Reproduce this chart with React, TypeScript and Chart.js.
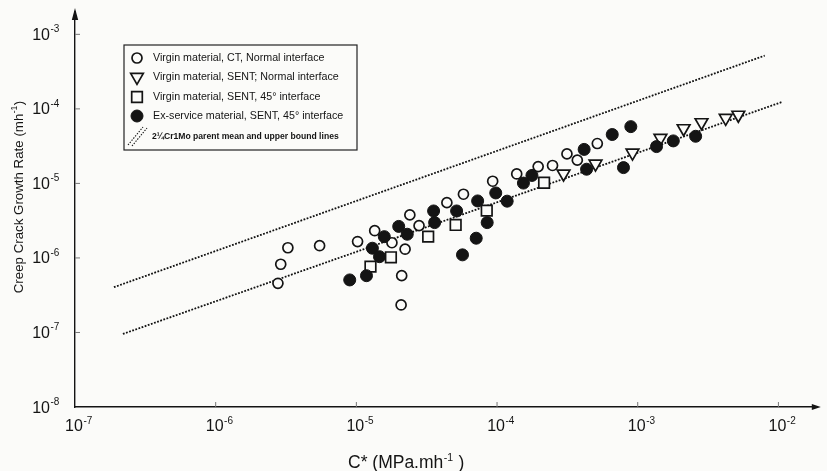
import React, { useEffect, useRef } from 'react';
import { Chart, registerables } from 'chart.js';

Chart.register(...registerables);

// ---------- data (C* in MPa.m/h, creep crack growth rate in m/h) ----------
const ctLabel = 'Virgin material, CT, Normal interface';
const ctC = [2.77e-6, 2.90e-6, 3.26e-6, 5.48e-6, 1.02e-5, 1.35e-5, 1.79e-5, 2.22e-5, 2.10e-5, 2.08e-5, 2.40e-5,
  2.79e-5, 4.40e-5, 5.77e-5, 9.31e-5, 1.38e-4, 1.96e-4, 2.48e-4, 3.14e-4, 3.72e-4, 5.16e-4];
const ctRate = [4.57e-7, 8.23e-7, 1.37e-6, 1.46e-6, 1.66e-6, 2.32e-6, 1.60e-6, 1.31e-6, 5.78e-7, 2.34e-7, 3.78e-6,
  2.71e-6, 5.52e-6, 7.16e-6, 1.07e-5, 1.34e-5, 1.68e-5, 1.74e-5, 2.49e-5, 2.05e-5, 3.43e-5];

const sentNormalLabel = 'Virgin material, SENT; Normal interface';
const sentNormalC = [2.97e-4, 5.01e-4, 9.18e-4, 1.45e-3, 2.12e-3, 2.84e-3, 4.22e-3, 5.19e-3];
const sentNormalRate = [1.35e-5, 1.83e-5, 2.57e-5, 4.06e-5, 5.47e-5, 6.59e-5, 7.53e-5, 8.30e-5];

const sent45Label = 'Virgin material, SENT, 45° interface';
const sent45C = [1.26e-5, 1.76e-5, 3.24e-5, 5.08e-5, 8.45e-5, 2.16e-4];
const sent45Rate = [7.64e-7, 1.02e-6, 1.93e-6, 2.77e-6, 4.31e-6, 1.02e-5];

const exServiceLabel = 'Ex-service material, SENT, 45° interface';
const exServiceC = [8.97e-6, 1.18e-5, 1.30e-5, 1.46e-5, 1.58e-5, 2.00e-5, 2.30e-5, 3.54e-5, 3.60e-5, 5.16e-5,
  5.68e-5, 7.11e-5, 7.28e-5, 8.51e-5, 9.79e-5, 1.18e-4, 1.54e-4, 1.77e-4, 4.16e-4, 4.33e-4, 6.59e-4, 8.93e-4,
  7.92e-4, 1.36e-3, 1.79e-3, 2.58e-3];
const exServiceRate = [5.07e-7, 5.78e-7, 1.35e-6, 1.04e-6, 1.93e-6, 2.65e-6, 2.08e-6, 4.27e-6, 2.98e-6, 4.27e-6,
  1.10e-6, 1.84e-6, 5.82e-6, 2.98e-6, 7.45e-6, 5.78e-6, 1.01e-5, 1.28e-5, 2.86e-5, 1.55e-5, 4.53e-5, 5.78e-5,
  1.63e-5, 3.12e-5, 3.72e-5, 4.29e-5];

const parentLabel = '2¼Cr1Mo parent mean and upper bound lines';
const upperBoundC = [1.89e-7, 8.0e-3];
const upperBoundRate = [4.05e-7, 5.19e-4];
const meanLineC = [2.19e-7, 1.05e-2];
const meanLineRate = [9.55e-8, 1.23e-4];

const xTickExponents = [-7, -6, -5, -4, -3, -2];
const yTickExponents = [-8, -7, -6, -5, -4, -3];

const xAxisTitle = 'C* (MPa.mh';
const xAxisTitleSup = '-1';
const xAxisTitleEnd = ' )';
const yAxisTitle = 'Creep Crack Growth Rate (mh';
const yAxisTitleSup = '-1';
const yAxisTitleEnd = ')';

// ---------- styling ----------
const X_MIN = 1e-7;
const X_MAX = Math.pow(10, -1.72);
const Y_MIN = 1e-8;
const Y_MAX = Math.pow(10, -2.7);
const INK = '#141414';
const PAPER = '#fbfbf9';
const FONT = '"Liberation Sans", Arial, Helvetica, sans-serif';

type Marker = { style: 'circle' | 'triangle' | 'rect'; filled: boolean; radius: number; border: number };

const markers: Marker[] = [
  { style: 'circle', filled: false, radius: 5, border: 1.7 },
  { style: 'triangle', filled: false, radius: 7.3, border: 1.7 },
  { style: 'rect', filled: false, radius: 7.5, border: 1.7 },
  { style: 'circle', filled: true, radius: 6, border: 1 },
];

function pts(xs: number[], ys: number[]) {
  return xs.map((v, i) => ({ x: v, y: ys[i] }));
}

function drawMarker(ctx: CanvasRenderingContext2D, m: Marker, x: number, y: number) {
  ctx.save();
  ctx.lineWidth = m.border;
  ctx.strokeStyle = INK;
  ctx.fillStyle = m.filled ? INK : PAPER;
  ctx.beginPath();
  const r = m.radius;
  if (m.style === 'circle') {
    ctx.arc(x, y, r, 0, Math.PI * 2);
  } else if (m.style === 'rect') {
    const s = Math.SQRT1_2 * r;
    ctx.rect(x - s, y - s, 2 * s, 2 * s);
  } else {
    for (let k = 0; k < 3; k++) {
      const a = Math.PI + (k * 2 * Math.PI) / 3;
      const px = x + Math.sin(a) * r;
      const py = y - Math.cos(a) * r;
      if (k === 0) ctx.moveTo(px, py);
      else ctx.lineTo(px, py);
    }
    ctx.closePath();
  }
  ctx.fill();
  ctx.stroke();
  ctx.restore();
}

function drawSupText(ctx: CanvasRenderingContext2D, x: number, y: number, main: string, sup: string, end: string,
  size: number, supSize: number, rise: number) {
  ctx.font = `${size}px ${FONT}`;
  const w1 = ctx.measureText(main).width;
  ctx.fillText(main, x, y);
  ctx.font = `${supSize}px ${FONT}`;
  const w2 = ctx.measureText(sup).width;
  ctx.fillText(sup, x + w1 + 0.5, y - rise);
  if (end) {
    ctx.font = `${size}px ${FONT}`;
    ctx.fillText(end, x + w1 + w2 + 1, y);
  }
}

export default function App() {
  const ref = useRef<HTMLCanvasElement>(null);

  useEffect(() => {
    const canvas = ref.current;
    if (!canvas) return;

    const deco = {
      id: 'deco',
      beforeDraw(chart: any) {
        const c = chart.ctx as CanvasRenderingContext2D;
        c.save();
        c.fillStyle = PAPER;
        c.fillRect(0, 0, chart.width, chart.height);
        c.restore();
      },
      afterDraw(chart: any) {
        const c = chart.ctx as CanvasRenderingContext2D;
        const ca = chart.chartArea;
        const xs = chart.scales.x;
        const ys = chart.scales.y;
        c.save();
        c.fillStyle = INK;
        c.strokeStyle = INK;

        // arrow heads
        c.beginPath();
        c.moveTo(ca.left, ca.top - 4);
        c.lineTo(ca.left - 3.2, ca.top + 8);
        c.lineTo(ca.left + 3.2, ca.top + 8);
        c.closePath();
        c.fill();
        c.beginPath();
        c.moveTo(ca.right + 3, ca.bottom);
        c.lineTo(ca.right - 6, ca.bottom - 3);
        c.lineTo(ca.right - 6, ca.bottom + 3);
        c.closePath();
        c.fill();

        // small inner ticks
        c.lineWidth = 1;
        c.strokeStyle = '#777';
        for (const e of xTickExponents) {
          const px = xs.getPixelForValue(Math.pow(10, e));
          if (e === xTickExponents[0]) continue;
          c.beginPath();
          c.moveTo(px, ca.bottom);
          c.lineTo(px, ca.bottom - 5);
          c.stroke();
        }
        for (const e of yTickExponents) {
          const py = ys.getPixelForValue(Math.pow(10, e));
          if (e === yTickExponents[0]) continue;
          c.beginPath();
          c.moveTo(ca.left, py);
          c.lineTo(ca.left + 5, py);
          c.stroke();
        }

        // tick labels
        c.fillStyle = INK;
        c.textBaseline = 'alphabetic';
        c.textAlign = 'left';
        for (const e of xTickExponents) {
          const px = xs.getPixelForValue(Math.pow(10, e));
          c.font = `16px ${FONT}`;
          const w = c.measureText('10').width;
          drawSupText(c, px - 1 - w / 2, 431, '10', String(e), '', 16, 10, 7.5);
        }
        for (const e of yTickExponents) {
          const py = ys.getPixelForValue(Math.pow(10, e));
          c.font = `16px ${FONT}`;
          const w = c.measureText('10').width;
          drawSupText(c, 50 - w, py + 5.5, '10', String(e), '', 16, 10, 7.5);
        }

        // axis titles
        drawSupText(c, 348, 468, xAxisTitle, xAxisTitleSup, xAxisTitleEnd, 17.5, 10.5, 7.5);
        c.save();
        c.translate(18, 197);
        c.rotate(-Math.PI / 2);
        c.font = `13.3px ${FONT}`;
        const a = c.measureText(yAxisTitle).width;
        c.font = `8.5px ${FONT}`;
        const b = c.measureText(yAxisTitleSup).width;
        c.font = `13.3px ${FONT}`;
        const d = c.measureText(yAxisTitleEnd).width;
        drawSupText(c, -(a + b + d + 1) / 2, 4.7, yAxisTitle, yAxisTitleSup, yAxisTitleEnd, 13.3, 8.5, 5.5);
        c.restore();

        // legend box
        const bx = 124, by = 45, bw = 233, bh = 105;
        c.fillStyle = PAPER;
        c.fillRect(bx, by, bw, bh);
        c.lineWidth = 1.2;
        c.strokeStyle = '#222';
        c.strokeRect(bx, by, bw, bh);
        const rows = [58, 77, 97, 116, 136];
        const ds = chart.data.datasets;
        for (let i = 0; i < 4; i++) {
          drawMarker(c, markers[i], 137, rows[i]);
          c.fillStyle = INK;
          c.font = `10.7px ${FONT}`;
          c.textBaseline = 'middle';
          c.textAlign = 'left';
          c.fillText(ds[i].label, 153, rows[i] + 0.5);
        }
        // dotted-lines symbol
        c.save();
        c.strokeStyle = INK;
        c.lineWidth = 1.1;
        c.setLineDash([1.4, 1.4]);
        c.beginPath();
        c.moveTo(128, 145);
        c.lineTo(143, 127);
        c.moveTo(132, 146);
        c.lineTo(147, 128);
        c.stroke();
        c.restore();
        c.fillStyle = INK;
        c.font = `bold 8.6px ${FONT}`;
        c.textBaseline = 'middle';
        c.fillText(ds[4].label, 152, rows[4] + 0.5);
        c.restore();
      },
    };

    const scatterBase = (i: number) => ({
      pointStyle: markers[i].style,
      pointRadius: markers[i].radius,
      pointHoverRadius: markers[i].radius,
      pointBorderWidth: markers[i].border,
      pointBorderColor: INK,
      pointBackgroundColor: markers[i].filled ? INK : PAPER,
      pointRotation: markers[i].style === 'triangle' ? 180 : 0,
      showLine: false,
    });

    const lineBase = {
      showLine: true,
      pointRadius: 0,
      borderColor: '#111',
      borderWidth: 1.8,
      borderDash: [1.8, 1.5],
      fill: false,
      order: 10,
    };

    const chart = new Chart(canvas, {
      type: 'scatter',
      data: {
        datasets: [
          { label: ctLabel, data: pts(ctC, ctRate), ...scatterBase(0), order: 3 },
          { label: sentNormalLabel, data: pts(sentNormalC, sentNormalRate), ...scatterBase(1), order: 2 },
          { label: sent45Label, data: pts(sent45C, sent45Rate), ...scatterBase(2), order: 1 },
          { label: exServiceLabel, data: pts(exServiceC, exServiceRate), ...scatterBase(3), order: 0 },
          { label: parentLabel, data: pts(upperBoundC, upperBoundRate), ...lineBase },
          { label: parentLabel + ' (mean)', data: pts(meanLineC, meanLineRate), ...lineBase },
        ] as any,
      },
      options: {
        animation: false,
        responsive: false,
        devicePixelRatio: 1,
        events: [],
        layout: { padding: { top: 12, right: 4, left: 0, bottom: 0 } },
        plugins: { legend: { display: false }, tooltip: { enabled: false } },
        scales: {
          x: {
            type: 'logarithmic',
            position: 'bottom',
            min: X_MIN,
            max: X_MAX,
            grid: { display: false },
            border: { display: true, color: INK, width: 1.4 },
            ticks: { display: false },
            afterFit: (s: any) => { s.height = 64; },
          },
          y: {
            type: 'logarithmic',
            position: 'left',
            min: Y_MIN,
            max: Y_MAX,
            grid: { display: false },
            border: { display: true, color: INK, width: 1.4 },
            ticks: { display: false },
            afterFit: (s: any) => { s.width = 75; },
          },
        },
      } as any,
      plugins: [deco],
    });

    return () => chart.destroy();
  }, []);

  return (
    <div style={{ position: 'absolute', left: 0, top: 0, width: 827, height: 471, overflow: 'hidden' }}>
      <canvas ref={ref} width={827} height={471} style={{ display: 'block' }} />
    </div>
  );
}
